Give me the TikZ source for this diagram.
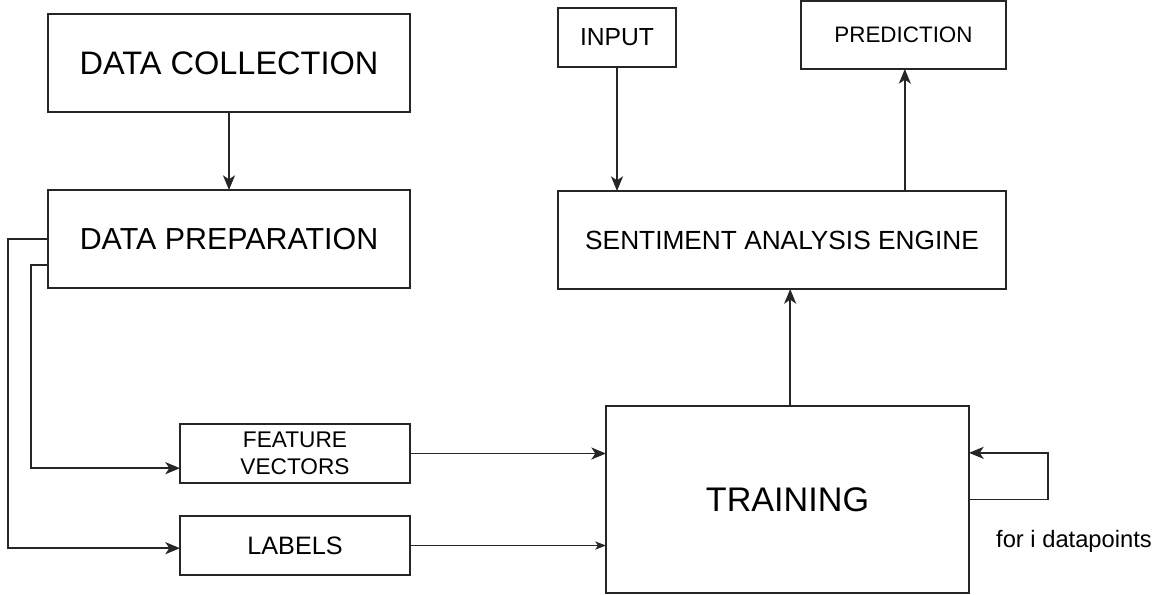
\documentclass[tikz,border=0pt]{standalone}
\usepackage{fontspec}
\setmainfont{Liberation Sans}
\usetikzlibrary{arrows.meta}
\definecolor{linea}{HTML}{262626}

\begin{document}
\begin{tikzpicture}[x=0.75pt,y=-0.75pt,line width=1pt,
    caja/.style={draw=linea,inner sep=0pt,outer sep=0pt,align=center},
    flecha/.style={-{Stealth[length=11pt,width=9pt,inset=3pt]},draw=linea,line width=1.4pt}]
    \useasboundingbox (0,0) rectangle (1152,594);
    % izquierda
    \node[caja,minimum width=271.5pt,minimum height=73.5pt,font=\fontsize{24.4}{29}\selectfont] (coll) at (229,63) {DATA COLLECTION};
    \node[caja,minimum width=271.5pt,minimum height=73.5pt,font=\fontsize{22.8}{27}\selectfont] (prep) at (229,239) {DATA PREPARATION};
    \node[caja,minimum width=172.5pt,minimum height=44.25pt,font=\fontsize{17}{20.6}\selectfont] (fv) at (295,453.5) {FEATURE\\VECTORS};
    \node[caja,minimum width=172.5pt,minimum height=44.25pt,font=\fontsize{18.9}{22}\selectfont] (lab) at (295,545.5) {LABELS};
    % derecha
    \node[caja,minimum width=88.5pt,minimum height=44.25pt,font=\fontsize{18.5}{22}\selectfont] (inp) at (617,37.5) {INPUT};
    \node[caja,minimum width=153.75pt,minimum height=51pt,font=\fontsize{16.8}{20}\selectfont,anchor=north] (pred) at (903.5,1) {PREDICTION};
    \node[caja,minimum width=336pt,minimum height=73.5pt,font=\fontsize{19.7}{24}\selectfont] (sae) at (782,240) {SENTIMENT ANALYSIS ENGINE};
    \node[caja,minimum width=272.25pt,minimum height=140.25pt,font=\fontsize{25.6}{30}\selectfont] (train) at (787.5,499.5) {TRAINING};
    \node[font=\fontsize{17.8}{21}\selectfont] (loop) at (1074,541) {for i datapoints};
    % flechas
    \draw[flecha] (coll) -- (prep);
    \draw[flecha] ([yshift=-19.5pt]prep.west) -- ++(-17,0) |- ([yshift=-11pt]fv.west);
    \draw[flecha] (prep.west) -- ++(-40,0) |- ([yshift=-2pt]lab.west);
    \draw[flecha] (fv) -- (fv -| train.west);
    \draw[flecha,-{Stealth[length=8pt,width=6pt,inset=2pt]}] (lab) -- (lab -| train.west);
    \draw[flecha] ([xshift=2pt]train.north) -- ([xshift=2pt]train.north |- sae.south);
    \draw[flecha] (inp) -- (inp |- sae.north);
    \draw[flecha] ([xshift=1pt]sae.north -| pred) -- ([xshift=1pt]pred.south);
    \draw[flecha] (train.east) -- ++(79,0) |- ([yshift=35pt]train.east);
  \end{tikzpicture}
\end{document}
